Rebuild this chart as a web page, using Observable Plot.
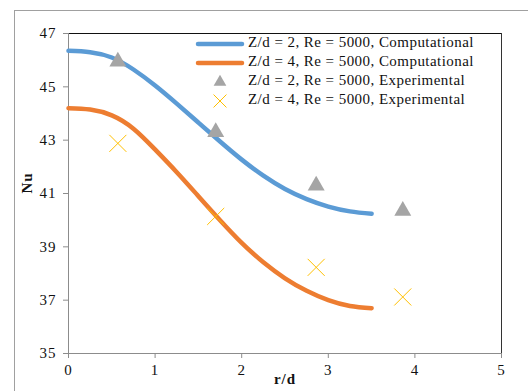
<!DOCTYPE html>
<html>
<head>
<meta charset="utf-8">
<script src="https://cdn.jsdelivr.net/npm/d3@7"></script>
<script src="https://cdn.jsdelivr.net/npm/@observablehq/plot@0.6"></script>
<style>
  html, body { margin: 0; padding: 0; background: #fff; overflow: hidden; }
  #wrap { position: relative; width: 528px; height: 391px; overflow: hidden; }
  #border { position: absolute; left: 14px; top: 10px; width: 700px; height: 600px; border: 1px solid #a0a0a0; box-sizing: border-box; }
  #chart { position: absolute; left: 0; top: 0; }
  #legend { position: absolute; left: 195px; top: 34px; font-family: "Liberation Serif", serif; font-size: 15px; letter-spacing: 0.45px; color: #111; }
  .item { position: absolute; white-space: nowrap; height: 19px; }
  .item svg { position: absolute; left: 0; top: 0; }
  .item span { position: absolute; left: 53px; top: 0px; }
</style>
</head>
<body>
<div id="wrap">
  <div id="border"></div>
  <div id="chart"></div>
  <div id="legend"></div>
</div>
<script>
// Computational curves (Nu vs r/d)
const rdComp = [0, 0.25, 0.5, 0.75, 1.0, 1.25, 1.5, 1.75, 2.0, 2.25, 2.5, 2.75, 3.0, 3.25, 3.5];
const nuComp2 = [46.35, 46.3, 46.1, 45.65, 45.05, 44.37, 43.66, 42.95, 42.27, 41.67, 41.17, 40.79, 40.51, 40.33, 40.24];
const nuComp4 = [44.2, 44.15, 43.93, 43.43, 42.65, 41.8, 40.9, 40.0, 39.15, 38.42, 37.82, 37.35, 37.0, 36.78, 36.7];
// Experimental points
const rdExp = [0.57, 1.7, 2.86, 3.86];
const nuExp2 = [45.95, 43.3, 41.3, 40.35];
const nuExp4 = [42.88, 40.14, 38.23, 37.12];
// Axes
const xTicks = [0, 1, 2, 3, 4, 5];
const yTicks = [35, 37, 39, 41, 43, 45, 47];
const seriesNames = [
  "Z/d = 2, Re = 5000, Computational",
  "Z/d = 4, Re = 5000, Computational",
  "Z/d = 2, Re = 5000, Experimental",
  "Z/d = 4, Re = 5000, Experimental"
];
const colors = ["#5B9BD5", "#ED7D31", "#A5A5A5", "#FFC000"];

const comp2 = rdComp.map((x, i) => ({x, y: nuComp2[i]}));
const comp4 = rdComp.map((x, i) => ({x, y: nuComp4[i]}));
const exp2 = rdExp.map((x, i) => ({x, y: nuExp2[i]}));
const exp4 = rdExp.map((x, i) => ({x, y: nuExp4[i]}));

const serif = "Liberation Serif, Times New Roman, serif";

const plot = Plot.plot({
  width: 528,
  height: 391,
  marginLeft: 68,
  marginRight: 27,
  marginTop: 33,
  marginBottom: 38,
  style: {fontFamily: serif, fontSize: "14px", color: "#111", background: "transparent", letterSpacing: "1px"},
  x: {domain: [0, 5]},
  y: {domain: [35, 47]},
  marks: [
    Plot.ruleY([47], {stroke: "#111", strokeWidth: 1}),
    Plot.ruleX([5], {stroke: "#333", strokeWidth: 1}),
    Plot.ruleX([0], {stroke: "#8c8c8c", strokeWidth: 1}),
    Plot.ruleY([35], {stroke: "#8c8c8c", strokeWidth: 1}),
    Plot.axisX({ticks: xTicks, tickFormat: d => String(d), tickSize: 5, tickPadding: 6, stroke: "#8c8c8c", fill: "#111", label: null, fontSize: 15}),
    Plot.axisY({ticks: yTicks, tickFormat: d => String(d), tickSize: 5, tickPadding: 7, stroke: "#8c8c8c", fill: "#111", label: null, fontSize: 15}),
    Plot.line(comp2, {x: "x", y: "y", stroke: colors[0], strokeWidth: 4.5, curve: "natural", strokeLinecap: "round"}),
    Plot.line(comp4, {x: "x", y: "y", stroke: colors[1], strokeWidth: 4.5, curve: "natural", strokeLinecap: "round"}),
    Plot.dot(exp2, {x: "x", y: "y", symbol: "triangle", fill: colors[2], r: 6.3}),
    Plot.dot(exp4, {x: "x", y: "y", symbol: "times", stroke: colors[3], strokeWidth: 1, r: 7.8}),
    Plot.text(["Nu"], {frameAnchor: "left", dx: -41, rotate: -90, fontWeight: "bold", fontSize: 15}),
    Plot.text(["r/d"], {frameAnchor: "bottom", dy: 30, fontWeight: "bold", fontSize: 15})
  ]
});
document.getElementById("chart").appendChild(plot);

// Legend
const legend = d3.select("#legend");
const rowY = [0, 19, 38, 57];
seriesNames.forEach((name, i) => {
  const item = legend.append("div").attr("class", "item").style("top", rowY[i] + "px");
  const svg = item.append("svg").attr("width", 52).attr("height", 19);
  if (i < 2) {
    svg.append("line").attr("x1", 3).attr("x2", 47).attr("y1", 10).attr("y2", 10)
      .attr("stroke", colors[i]).attr("stroke-width", 4.5).attr("stroke-linecap", "round");
  } else if (i === 2) {
    svg.append("path").attr("transform", "translate(25,10)")
      .attr("d", d3.symbol(d3.symbolTriangle, 70)()).attr("fill", colors[2]);
  } else {
    svg.append("path").attr("transform", "translate(25,10)")
      .attr("d", d3.symbol(d3.symbolTimes, 110)()).attr("fill", "none").attr("stroke", colors[3]).attr("stroke-width", 1);
  }
  item.append("span").text(name);
});
</script>
</body>
</html>
